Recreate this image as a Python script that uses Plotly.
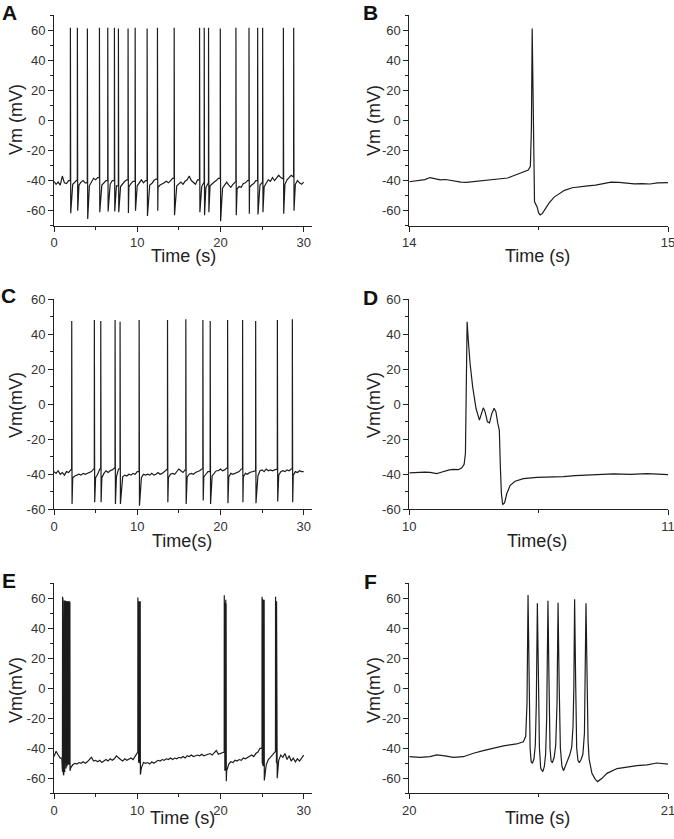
import plotly.graph_objects as go

W, H = 674, 839
FONT = "Arial, 'Liberation Sans', sans-serif"
LINE = "#1c1c1c"

# ---------------- data ----------------
# baseline sampling times for the 30 s recordings (A, C, E)
GRID_T = [round(0.25 * i, 2) for i in range(121)]

# Panel A
A_BASE_V = [
    -40.5, -42.5, -41.0, -43.0, -37.0, -41.5, -42.0, -40.0, -45.0, -42.5,
    -41.0, -39.5, -43.0, -41.0, -40.0, -41.5, -40.0, -43.5, -40.5, -38.5,
    -39.5, -38.0, -44.0, -43.0, -41.5, -40.0, -44.0, -42.5, -40.0, -41.0,
    -43.5, -41.0, -44.0, -42.0, -40.5, -39.5, -44.0, -42.0, -40.5, -41.0,
    -43.5, -41.0, -39.5, -41.5, -40.0, -42.0, -43.0, -42.0, -40.0, -39.0,
    -44.5, -43.0, -42.5, -41.5, -40.5, -41.5, -40.0, -38.5, -41.0, -43.5,
    -42.0, -41.0, -42.5, -40.5, -39.5, -37.0, -40.0, -41.5, -42.5, -39.5,
    -41.0, -44.0, -41.0, -44.5, -41.5, -43.5, -42.0, -41.0, -40.0, -38.5,
    -41.0, -45.0, -42.5, -41.0, -43.0, -44.5, -42.5, -40.5, -45.5, -44.0,
    -44.5, -42.0, -41.5, -40.0, -44.5, -43.0, -42.0, -40.0, -41.0, -43.0,
    -41.0, -44.0, -41.5, -39.5, -40.5, -38.0, -40.0, -38.5, -36.5, -38.0,
    -39.0, -42.5, -39.5, -38.0, -36.5, -37.5, -42.5, -40.0, -41.5, -42.5,
    -41.0,
]
A_SPIKE_T = [1.97, 2.81, 4.01, 5.46, 6.46, 7.26, 7.74, 8.90, 9.75, 11.19, 12.43,
             14.44, 17.49, 18.05, 18.57, 19.98, 21.86, 23.43, 24.47, 25.07, 27.56, 28.80]
A_SPIKE_PEAK = [61.5, 61.5, 61.0, 61.5, 61.5, 61.5, 61.0, 61.0, 61.5, 61.0, 61.5,
                61.5, 61.5, 61.5, 61.5, 61.0, 61.5, 61.5, 61.5, 61.5, 61.5, 61.5]
A_SPIKE_TROUGH = [-61.7, -60.0, -65.5, -61.0, -60.5, -60.5, -61.0, -61.5, -60.0, -63.5, -60.0,
                  -63.0, -61.0, -63.0, -61.0, -67.0, -63.0, -62.0, -62.5, -61.0, -62.0, -60.0]

# Panel B
B_T = [14.00, 14.02, 14.04, 14.06, 14.08, 14.10, 14.12, 14.14, 14.16, 14.18,
       14.20, 14.22, 14.24, 14.26, 14.28, 14.30, 14.32, 14.34, 14.36, 14.38,
       14.40, 14.42, 14.44, 14.46, 14.468, 14.472, 14.475, 14.478, 14.481, 14.484,
       14.488, 14.494, 14.500, 14.506, 14.514, 14.525, 14.54, 14.56, 14.58, 14.60,
       14.63, 14.66, 14.69, 14.72, 14.75, 14.78, 14.81, 14.84, 14.87, 14.90,
       14.93, 14.96, 15.00]
B_V = [-40.8, -40.5, -40.0, -39.4, -38.0, -38.9, -39.5, -39.3, -40.0, -40.6,
       -41.0, -41.2, -40.9, -40.5, -40.0, -39.6, -39.3, -39.0, -38.7, -38.3,
       -37.0, -35.5, -34.5, -33.0, -30.5, -5.0, 61.0, 30.0, -20.0, -54.0,
       -55.5, -57.5, -61.5, -62.8, -62.0, -59.0, -55.0, -51.0, -48.5, -46.5,
       -44.8, -44.0, -43.5, -43.0, -42.0, -41.0, -41.2, -41.8, -42.2, -42.0,
       -42.3, -41.6, -41.4]

# Panel C
C_BASE_V = [
    -38.5, -39.5, -38.0, -40.0, -39.0, -40.5, -38.5, -39.0, -37.5, -42.0,
    -41.0, -40.5, -40.0, -40.5, -39.5, -40.0, -39.5, -39.0, -38.5, -37.0,
    -42.0, -40.0, -37.0, -42.0, -39.5, -38.0, -39.0, -38.0, -37.5, -36.5,
    -41.5, -37.0, -40.0, -41.5, -40.5, -41.0, -40.0, -40.5, -39.5, -40.0,
    -38.5, -40.0, -42.0, -40.0, -40.5, -40.0, -40.5, -39.5, -40.5, -40.0,
    -39.0, -40.0, -39.5, -38.5, -37.0, -42.0, -40.0, -39.5, -40.0, -38.5,
    -37.0, -38.0, -39.0, -37.5, -41.5, -40.0, -39.5, -40.0, -39.0, -38.5,
    -38.0, -37.0, -41.5, -40.0, -38.5, -40.0, -41.0, -39.5, -38.0, -38.0,
    -37.0, -38.0, -37.5, -36.5, -41.5, -39.5, -40.0, -39.5, -39.0, -38.5,
    -37.0, -41.5, -39.5, -40.0, -39.0, -38.5, -38.0, -40.0, -41.0, -38.0,
    -37.5, -38.5, -37.0, -38.0, -37.5, -38.0, -37.5, -37.0, -40.5, -38.5,
    -38.0, -38.5, -37.5, -38.0, -37.0, -40.5, -38.5, -39.0, -38.0, -38.5,
    -38.5,
]
C_SPIKE_T = [2.13, 4.85, 5.62, 7.34, 7.94, 10.23, 13.64, 15.84, 17.89, 18.77,
             20.86, 22.66, 24.23, 26.84, 28.64]
C_SPIKE_PEAK = [47.5, 48.0, 47.5, 48.0, 47.0, 48.0, 48.0, 48.5, 48.0, 47.5,
                48.0, 48.0, 47.5, 48.0, 48.5]
C_SPIKE_TROUGH = [-57.0, -56.0, -56.0, -57.0, -57.0, -58.0, -56.0, -57.0, -55.0, -57.0,
                  -56.5, -56.0, -56.5, -55.5, -56.0]

# Panel D
D_T = [10.000, 10.020, 10.041, 10.060, 10.080, 10.106, 10.120, 10.138, 10.155, 10.170,
       10.190, 10.203, 10.212, 10.217, 10.221, 10.2235, 10.228, 10.235, 10.245, 10.258,
       10.271, 10.280, 10.286, 10.293, 10.302, 10.310, 10.319, 10.328, 10.335, 10.342,
       10.348, 10.352, 10.356, 10.361, 10.368, 10.377, 10.390, 10.409, 10.441, 10.493,
       10.545, 10.596, 10.640, 10.674, 10.725, 10.790, 10.854, 10.919, 10.960, 11.000]
D_V = [-39.2, -39.0, -39.0, -38.8, -38.9, -39.6, -39.0, -38.0, -37.5, -37.2,
       -37.4, -36.3, -34.3, -28.0, 13.7, 47.0, 36.6, 23.2, 9.9, -2.5,
       -9.1, -5.3, -2.1, -4.4, -10.1, -10.7, -5.3, -2.3, -4.4, -11.0,
       -14.9, -35.8, -51.0, -57.3, -56.4, -51.0, -46.3, -44.0, -42.5, -41.8,
       -41.6, -41.3, -40.8, -40.6, -40.2, -39.8, -40.1, -39.7, -39.9, -40.2]

# Panel E
E_BASE_V = [
    -45.5, -42.0, -44.5, -46.5, -48.0, -48.0, -48.0, -48.0, -53.0, -51.0,
    -50.0, -50.5, -49.5, -50.0, -49.0, -50.0, -49.0, -47.5, -46.0, -48.5,
    -48.0, -49.0, -48.0, -49.5, -48.5, -47.5, -48.5, -47.0, -48.0, -47.0,
    -45.0, -46.5, -47.5, -48.5, -47.0, -48.0, -47.0, -46.5, -47.5, -45.0,
    -42.5, -48.0, -53.0, -49.5, -50.0, -49.5, -50.5, -49.0, -50.0, -49.0,
    -48.0, -48.5, -47.5, -48.0, -47.0, -47.5, -46.5, -47.5, -46.5, -47.0,
    -46.0, -46.5, -45.5, -46.5, -45.0, -45.5, -44.5, -45.5, -45.0, -44.5,
    -45.0, -44.0, -45.0, -44.5, -44.0, -43.5, -44.5, -43.0, -41.5, -44.0,
    -43.5, -42.5, -45.0, -55.0, -50.5, -49.0, -49.5, -48.0, -48.5, -47.5,
    -48.0, -46.5, -47.0, -46.0, -45.0, -44.5, -45.5, -43.5, -42.5, -40.0,
    -45.0, -45.0, -51.0, -47.5, -46.0, -44.0, -42.0, -45.0, -48.0, -44.5,
    -46.0, -43.5, -47.5, -45.0, -48.5, -46.5, -49.0, -47.0, -48.5, -46.0,
    -44.5,
]
E_SPIKE_T = [0.95, 0.99, 1.03, 1.07, 1.11, 1.15, 1.19, 1.23, 1.27, 1.31, 1.35, 1.39, 1.43,
             1.47, 1.51, 1.55, 1.59, 1.63, 1.67, 1.71, 1.75, 1.79, 1.83, 1.87, 1.91,
             10.08, 10.15, 10.22, 10.29, 10.36,
             20.46, 20.50, 20.54, 20.58, 20.64, 20.68,
             25.00, 25.06, 25.12, 25.18, 25.25,
             26.62, 26.68, 26.74, 26.80]
E_SPIKE_PEAK = [61.0, 60.5, 61.0, 60.0, 59.0, 58.5, 58.0, 58.5, 58.0, 58.0, 58.5, 58.0, 57.5,
                58.0, 58.0, 57.5, 58.0, 58.0, 57.5, 58.0, 57.5, 58.0, 57.5, 58.0, 57.5,
                60.5, 58.0, 58.0, 57.5, 58.0,
                62.0, 57.0, 58.5, 57.0, 59.0, 56.5,
                61.0, 59.5, 59.0, 58.5, 59.0,
                61.0, 58.0, 58.0, 58.0]
E_SPIKE_TROUGH = [-52, -55, -56, -54, -57, -58, -55, -53, -56, -52, -50, -51, -53,
                  -49, -50, -52, -50, -49, -51, -48, -50, -49, -51, -50, -55,
                  -48, -49, -50, -49, -57.5,
                  -50, -55, -50, -55, -50, -62,
                  -50, -51, -52, -50, -61.5,
                  -49, -50, -50, -60]

# Panel F
F_T = [20.000, 20.041, 20.080, 20.106, 20.138, 20.170, 20.209, 20.248, 20.286, 20.325,
       20.364, 20.415, 20.441, 20.450, 20.455, 20.459, 20.463, 20.467, 20.471, 20.476,
       20.482, 20.487, 20.491, 20.495, 20.499, 20.503, 20.508, 20.516, 20.522, 20.527,
       20.531, 20.536, 20.540, 20.544, 20.548, 20.553, 20.560, 20.566, 20.571, 20.575,
       20.579, 20.584, 20.590, 20.596, 20.603, 20.612, 20.621, 20.628, 20.633, 20.636,
       20.639, 20.643, 20.647, 20.652, 20.657, 20.664, 20.671, 20.677, 20.680, 20.683,
       20.687, 20.691, 20.695, 20.706, 20.719, 20.728, 20.745, 20.764, 20.803, 20.841,
       20.880, 20.919, 20.957, 21.000]
F_V = [-45.6, -46.0, -45.6, -44.4, -45.0, -46.0, -45.6, -43.3, -41.6, -40.0,
       -38.4, -37.1, -35.6, -32.0, -10.0, 62.2, 15.0, -40.0, -48.9, -50.0,
       -47.0, -38.0, -10.0, 56.7, 10.0, -40.0, -53.3, -55.6, -52.0, -44.0,
       -20.0, 58.4, 5.0, -40.0, -48.5, -49.6, -46.0, -38.0, -10.0, 57.1,
       5.0, -40.0, -52.0, -54.9, -52.0, -48.0, -44.0, -39.0, -25.0, 0.0,
       59.3, 5.0, -40.0, -48.0, -49.6, -47.5, -44.0, -30.0, 0.0, 56.7,
       10.0, -35.0, -47.0, -56.7, -60.7, -62.2, -60.0, -56.7, -53.5, -52.3,
       -51.5, -51.0, -49.8, -50.5]

# axis ticks
Y_TICKS = [-60, -40, -20, 0, 20, 40, 60]
Y_TICK_TEXT = ["-60", "-40", "-20", "0", "20", "40", "60"]
Y_MINOR = [-70, -50, -30, -10, 10, 30, 50, 70]
X30_TICKS = [0, 10, 20, 30]
X30_MINOR = [5, 15, 25]


def assemble(grid_t, base_v, spike_t, spike_peak, spike_trough, lag):
    events = []
    for t, v in zip(grid_t, base_v):
        if any(s - 0.03 <= t <= s + 0.06 for s in spike_t):
            continue
        events.append((t, 0, v))
    for s, p, tr in zip(spike_t, spike_peak, spike_trough):
        events.append((s, 1, p))
        events.append((s + lag, 2, tr))
    events.sort(key=lambda e: (e[0], e[1]))
    xs, ys = [], []
    for t, kind, v in events:
        if kind == 1 and ys:
            xs.append(t - 0.01)
            ys.append(ys[-1])
        xs.append(t)
        ys.append(v)
    return xs, ys


a_x, a_y = assemble(GRID_T, A_BASE_V, A_SPIKE_T, A_SPIKE_PEAK, A_SPIKE_TROUGH, 0.04)
c_x, c_y = assemble(GRID_T, C_BASE_V, C_SPIKE_T, C_SPIKE_PEAK, C_SPIKE_TROUGH, 0.04)
e_x, e_y = assemble(GRID_T, E_BASE_V, E_SPIKE_T, E_SPIKE_PEAK, E_SPIKE_TROUGH, 0.02)

# ---------------- layout geometry (page pixels) ----------------
LEFT = (54, 312)
RIGHT = (409.3, 668)
ROWS = [(15, 225.7), (299, 509.3), (583.3, 793.3)]


def fx(x):
    return x / W


def fy(y):
    return 1 - y / H


def xd(p):
    return [fx(p[0]), fx(p[1])]


def yd(r):
    return [fy(r[1]), fy(r[0])]


panels = [
    dict(x=a_x, y=a_y, col=LEFT, row=ROWS[0], xr=[0, 31], yr=[-70, 70],
         xt=X30_TICKS, xm=X30_MINOR, yl="Vm (mV)", xl="Time (s)"),
    dict(x=B_T, y=B_V, col=RIGHT, row=ROWS[0], xr=[14, 15], yr=[-70, 70],
         xt=[14, 15], xm=[14.5], yl="Vm (mV)", xl="Time (s)"),
    dict(x=c_x, y=c_y, col=LEFT, row=ROWS[1], xr=[0, 31], yr=[-60, 60],
         xt=X30_TICKS, xm=X30_MINOR, yl="Vm(mV)", xl="Time(s)"),
    dict(x=D_T, y=D_V, col=RIGHT, row=ROWS[1], xr=[10, 11], yr=[-60, 60],
         xt=[10, 11], xm=[10.5], yl="Vm(mV)", xl="Time(s)"),
    dict(x=e_x, y=e_y, col=LEFT, row=ROWS[2], xr=[0, 31], yr=[-70, 70],
         xt=X30_TICKS, xm=X30_MINOR, yl="Vm(mV)", xl="Time (s)"),
    dict(x=F_T, y=F_V, col=RIGHT, row=ROWS[2], xr=[20, 21], yr=[-70, 70],
         xt=[20, 21], xm=[20.5], yl="Vm(mV)", xl="Time (s)"),
]

LETTERS = [("A", 9, 12.5), ("B", 370.5, 12.5), ("C", 8.5, 296),
           ("D", 370.5, 298), ("E", 8.5, 580), ("F", 370, 581.5)]
YLAB_POS = [(16, 120), (374, 120), (16, 405), (374, 405), (16, 690), (374, 690)]
XLAB_POS = [(183, 256), (537, 256), (182, 541), (537, 541), (182, 818), (537, 818)]

fig = go.Figure()
layout = dict(width=W, height=H, margin=dict(l=0, r=0, t=0, b=0),
              paper_bgcolor="white", plot_bgcolor="white", showlegend=False)

axis_common = dict(showline=True, linecolor="#222", linewidth=1, ticks="outside",
                   ticklen=5, tickwidth=1, tickcolor="#222", showgrid=False,
                   zeroline=False, automargin=False, fixedrange=True,
                   ticklabeloverflow="allow",
                   tickfont=dict(family=FONT, size=13, color="#333"))

annotations = []
for i, p in enumerate(panels):
    n = "" if i == 0 else str(i + 1)
    fig.add_trace(go.Scatter(x=p["x"], y=p["y"], mode="lines",
                             line=dict(color=LINE, width=1.2),
                             xaxis="x" + n, yaxis="y" + n, hoverinfo="skip"))
    xa = dict(axis_common, domain=xd(p["col"]), range=p["xr"], anchor="y" + n,
              tickmode="array", tickvals=p["xt"], ticktext=[str(v) for v in p["xt"]],
              minor=dict(tickmode="array", tickvals=p["xm"], ticks="outside",
                         ticklen=3, tickwidth=1, tickcolor="#222", showgrid=False))
    ya = dict(axis_common, domain=yd(p["row"]), range=p["yr"], anchor="x" + n,
              tickmode="array", tickvals=Y_TICKS, ticktext=Y_TICK_TEXT,
              minor=dict(tickmode="array",
                         tickvals=[v for v in Y_MINOR if p["yr"][0] <= v <= p["yr"][1]],
                         ticks="outside", ticklen=3, tickwidth=1, tickcolor="#222",
                         showgrid=False))
    layout["xaxis" + n] = xa
    layout["yaxis" + n] = ya

    lx, ly = YLAB_POS[i]
    annotations.append(dict(text=p["yl"], x=fx(lx), y=fy(ly), xref="paper", yref="paper",
                            showarrow=False, textangle=-90, xanchor="center", yanchor="middle",
                            font=dict(family=FONT, size=18, color="#222")))
    tx, ty = XLAB_POS[i]
    annotations.append(dict(text=p["xl"], x=fx(tx), y=fy(ty), xref="paper", yref="paper",
                            showarrow=False, xanchor="center", yanchor="middle",
                            font=dict(family=FONT, size=18, color="#222")))

for letter, lx, ly in LETTERS:
    annotations.append(dict(text="<b>%s</b>" % letter, x=fx(lx), y=fy(ly),
                            xref="paper", yref="paper", showarrow=False,
                            xanchor="center", yanchor="middle",
                            font=dict(family=FONT, size=21, color="#111")))

layout["annotations"] = annotations
fig.update_layout(**layout)
fig.write_html("out.html",
               config={"displayModeBar": False, "staticPlot": True},
               post_script="document.body.style.margin='0';document.body.style.overflow='hidden';")
